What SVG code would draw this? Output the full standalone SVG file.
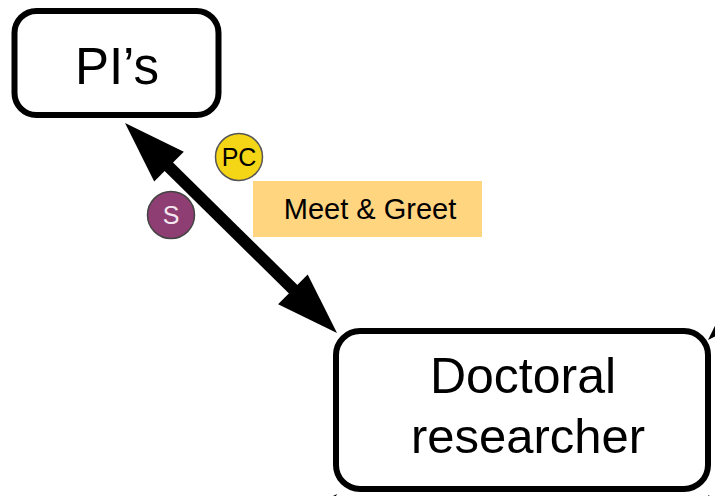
<svg xmlns="http://www.w3.org/2000/svg" width="715" height="496" viewBox="0 0 715 496">
<style>
.box{fill:#fff;stroke:#000;stroke-width:6}
.t{font-family:"Liberation Sans",Arial,sans-serif;fill:#000;text-anchor:middle}
.conn{stroke:#000;stroke-width:12;fill:none}
.head{fill:#000}
</style>
<rect width="715" height="496" fill="#fff"/>
<g id="connectors">
<line class="conn" x1="165" y1="163" x2="297" y2="293"/>
<polygon class="head" points="125,123 154.2,181.5 183.8,151.7"/>
<polygon class="head" points="337,333 278.1,304.3 307.7,274.5"/>
<line class="conn" x1="748" y1="300" x2="790" y2="258"/>
<polygon class="head" points="708,340 766.6,311 737,281.4"/>
<line class="conn" x1="297" y1="534" x2="260" y2="571"/>
<polygon class="head" points="337,494 307.7,552.6 278.1,523"/>
<polygon class="head" points="708,495 766.6,524 737,553.6"/>
</g>
<g id="node-pis">
<rect class="box" x="14.5" y="11" width="204" height="104" rx="22"/>
<text class="t" x="117" y="84" font-size="51">PI’s</text>
</g>
<g id="node-doctoral">
<rect class="box" x="336" y="331" width="372" height="158" rx="24"/>
<text class="t" x="523" y="393" font-size="50">Doctoral</text>
<text class="t" x="528" y="453" font-size="49">researcher</text>
</g>
<g id="label-meet">
<rect x="253" y="181" width="229" height="56" fill="#FFD57F"/>
<text class="t" x="370" y="219" font-size="29">Meet &amp; Greet</text>
</g>
<g id="badge-pc">
<circle cx="239" cy="157" r="23.5" fill="#F5D617" stroke="#555" stroke-width="1.5"/>
<text class="t" x="239" y="166" font-size="25" fill="#222">PC</text>
</g>
<g id="badge-s">
<circle cx="171" cy="215" r="23.5" fill="#8E3E72" stroke="#444" stroke-width="1.5"/>
<text class="t" x="171" y="224" font-size="25" style="fill:#F3E6F0">S</text>
</g>
</svg>
